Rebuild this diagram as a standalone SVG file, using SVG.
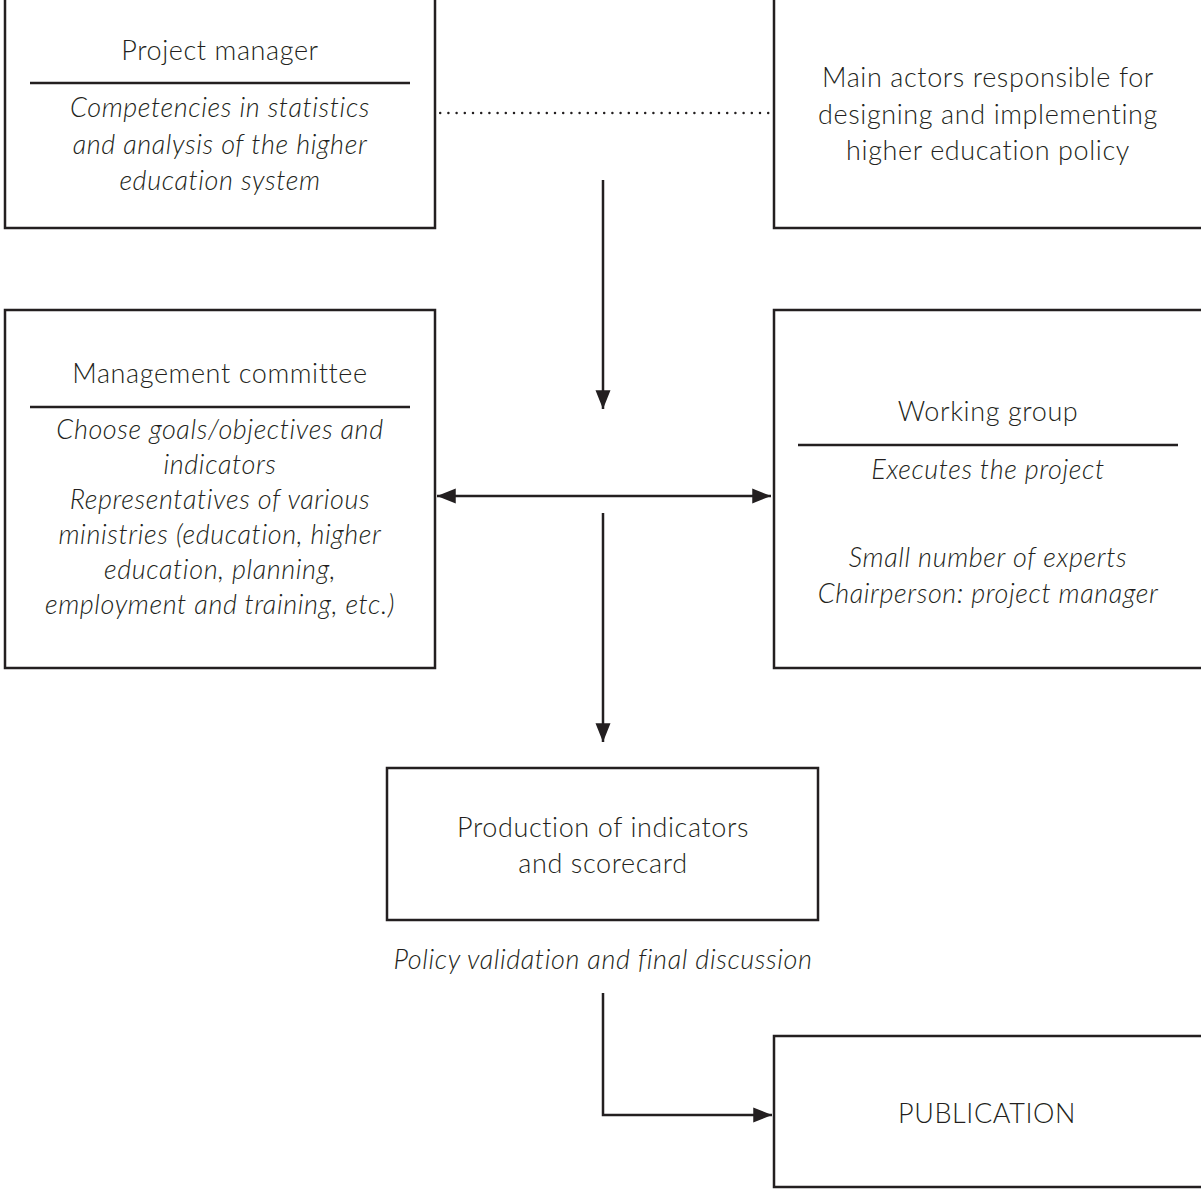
<svg xmlns="http://www.w3.org/2000/svg" width="1201" height="1189" viewBox="0 0 1201 1189">
<defs>
<style>
.box{fill:#fff;stroke:#231f20;stroke-width:2.5}
.rule{stroke:#231f20;stroke-width:2.5}
.ln{fill:none;stroke:#231f20;stroke-width:2.5}
text{font-family:Lato,"Open Sans","Liberation Sans",sans-serif;font-weight:300;font-size:27px;letter-spacing:0.6px;fill:#231f20;text-anchor:middle}
.it{font-style:italic}
</style>
<marker id="ahb" viewBox="0 0 10 10" refX="10" refY="5" markerWidth="7.5" markerHeight="7.5" orient="auto-start-reverse">
<path d="M0,1 L10,5 L0,9 z" fill="#231f20"/>
</marker>
</defs>
<rect width="1201" height="1189" fill="#fff"/>
<g id="connectors">
<line x1="432" y1="113" x2="774" y2="113" stroke="#231f20" stroke-width="2.5" stroke-dasharray="0 8.2" stroke-linecap="round"/>
<line class="ln" x1="603" y1="180" x2="603" y2="409" marker-end="url(#ahb)"/>
<line class="ln" x1="437" y1="496" x2="771" y2="496" marker-start="url(#ahb)" marker-end="url(#ahb)"/>
<line class="ln" x1="603" y1="513" x2="603" y2="742" marker-end="url(#ahb)"/>
<polyline class="ln" points="603,993 603,1115 772,1115" marker-end="url(#ahb)"/>
</g>
<g id="project-manager">
<rect class="box" x="5" y="-2" width="430" height="230"/>
<text x="220" y="60">Project manager</text>
<line class="rule" x1="30" y1="83" x2="410" y2="83"/>
<text class="it" x="220" y="117">Competencies in statistics</text>
<text class="it" x="220" y="154">and analysis of the higher</text>
<text class="it" x="220" y="190">education system</text>
</g>
<g id="main-actors">
<rect class="box" x="774" y="-2" width="440" height="230"/>
<text x="988" y="87">Main actors responsible for</text>
<text x="988" y="124">designing and implementing</text>
<text x="988" y="160">higher education policy</text>
</g>
<g id="management-committee">
<rect class="box" x="5" y="310" width="430" height="358"/>
<text x="220" y="383">Management committee</text>
<line class="rule" x1="30" y1="407" x2="410" y2="407"/>
<text class="it" x="220" y="439">Choose goals/objectives and</text>
<text class="it" x="220" y="474">indicators</text>
<text class="it" x="220" y="509">Representatives of various</text>
<text class="it" x="220" y="544">ministries (education, higher</text>
<text class="it" x="220" y="579">education, planning,</text>
<text class="it" x="220" y="614">employment and training, etc.)</text>
</g>
<g id="working-group">
<rect class="box" x="774" y="310" width="440" height="358"/>
<text x="988" y="421">Working group</text>
<line class="rule" x1="798" y1="445" x2="1178" y2="445"/>
<text class="it" x="988" y="479">Executes the project</text>
<text class="it" x="988" y="567">Small number of experts</text>
<text class="it" x="988" y="603">Chairperson: project manager</text>
</g>
<g id="production">
<rect class="box" x="387" y="768" width="431" height="152"/>
<text x="603" y="837">Production of indicators</text>
<text x="603" y="873">and scorecard</text>
</g>
<g id="validation-label">
<text class="it" x="603" y="969">Policy validation and final discussion</text>
</g>
<g id="publication">
<rect class="box" x="774" y="1036" width="440" height="151"/>
<text x="987" y="1123">PUBLICATION</text>
</g>
</svg>
